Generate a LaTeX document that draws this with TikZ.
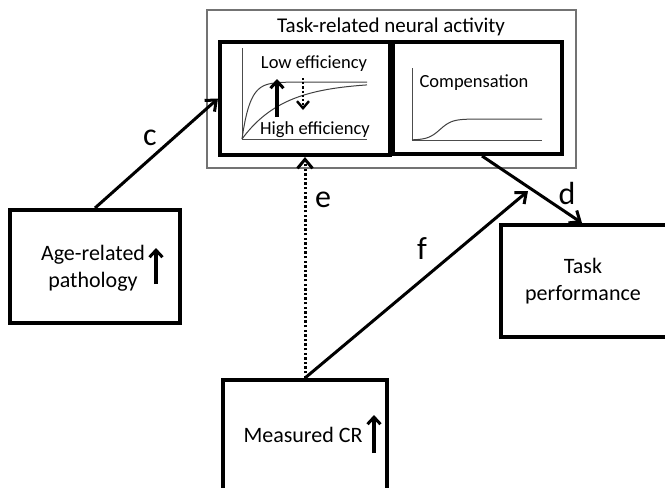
\documentclass[tikz,border=0pt]{standalone}
\usepackage{fontspec}
\setmainfont{Carlito}
\usetikzlibrary{arrows.meta}
\tikzset{
  box/.style={draw=black, line width=4pt, inner sep=0pt},
  outerbox/.style={draw=black!55, line width=1.3pt, inner sep=0pt},
  conn/.style={line width=3pt, -{Straight Barb[length=9pt,width=15pt,line width=3pt]}},
  dconn/.style={line width=3pt, dash pattern=on 2.4pt off 2.2pt, -{Straight Barb[length=9pt,width=15pt,line width=3pt]}},
  lab/.style={font=\fontsize{32}{36}\selectfont, inner sep=0pt},
  txt/.style={font=\fontsize{22}{27}\selectfont, align=center, inner sep=0pt},
  gtxt/.style={font=\fontsize{18.5}{22}\selectfont, align=center, inner sep=0pt},
  axis/.style={draw=black!70, line width=1pt},
  curve/.style={draw=black!75, line width=1pt},
  uparrow/.style={line width=3.4pt, -{Straight Barb[length=7pt,width=13pt,line width=3pt]}},
}
\begin{document}
\begin{tikzpicture}[x=1pt,y=-1pt]
\useasboundingbox (0,0) rectangle (665,488);
% outer box
\node[outerbox, minimum width=369pt, minimum height=158pt] (outer) at (391.5,89) {};
\node[gtxt, font=\fontsize{21}{25}\selectfont] (title) at (391,27) {Task-related neural activity};
% inner boxes
\node[box, minimum width=170pt, minimum height=113pt] (eff) at (305,98.5) {};
\node[box, minimum width=169pt, minimum height=112pt] (comp) at (477.5,98) {};
% left graph
\draw[axis] (242,48) -- (242,139) -- (367,139);
\draw[curve] plot[domain=242:367,samples=80] (\x,{82+57*exp(-(\x-242)/8)});
\draw[curve] plot[domain=242:367,samples=80] (\x,{82+57*exp(-(\x-242)/42)});
\node[gtxt] (low) at (314,64) {Low efficiency};
\node[gtxt] (high) at (315,130) {High efficiency};
\coordinate (ua1) at (277,117);
\coordinate (ua2) at (277,79);
\draw[uparrow] (ua1) -- (ua2);
\coordinate (da1) at (303,78);
\coordinate (da2) at (303,110);
\draw[line width=2.6pt, dash pattern=on 2.2pt off 2pt, -{Straight Barb[length=7pt,width=12pt,line width=2.4pt]}] (da1) -- (da2);
% right graph
\draw[axis] (412,68) -- (412,140) -- (542,140);
\draw[curve] plot[domain=412:542,samples=80] (\x,{140-21/(1+exp(-(\x-440)/6))});
\node[gtxt] (compt) at (474,83) {Compensation};
% age box
\node[box, minimum width=170pt, minimum height=113pt] (age) at (95,266.5) {};
\node[txt] (aget) at (93,268) {Age-related\\pathology};
\coordinate (aa1) at (156,284);
\coordinate (aa2) at (156,248);
\draw[uparrow] (aa1) -- (aa2);
% task box
\node[box, minimum width=168pt, minimum height=112pt] (task) at (585,281) {};
\node[txt] (taskt) at (583,281) {Task\\performance};
% CR box
\node[box, minimum width=164pt, minimum height=140pt] (cr) at (305,450) {};
\node[txt] (crt) at (303,435) {Measured CR};
\coordinate (ca1) at (374,453);
\coordinate (ca2) at (374,415);
\draw[uparrow] (ca1) -- (ca2);
% connectors
\draw[conn] (age.north) -- (eff.west);
\node[lab] (c) at (150,138) {c};
\draw[conn] (comp.south -| 482,0) -- (task.north -| 582,0);
\node[lab] (d) at (567,193) {d};
\draw[dconn] (cr.north) -- (eff.south);
\node[lab] (e) at (323,200) {e};
\coordinate (fend) at (528,191);
\draw[conn] (cr.north) -- (fend);
\node[lab] (f) at (422,249) {f};
\end{tikzpicture}
\end{document}
